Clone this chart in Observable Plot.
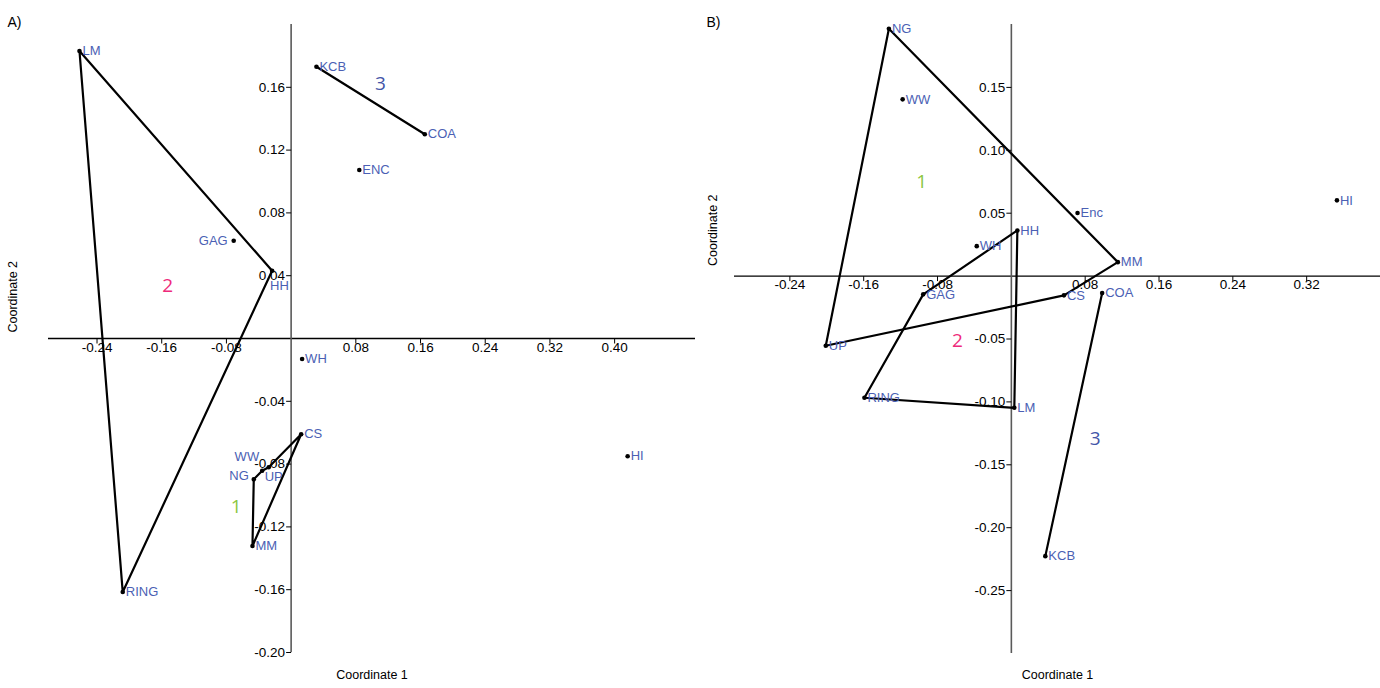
<!DOCTYPE html>
<html><head><meta charset="utf-8">
<script src="https://cdn.jsdelivr.net/npm/d3@7"></script>
<script src="https://cdn.jsdelivr.net/npm/@observablehq/plot@0.6"></script>
<style>
body{margin:0;background:#fff;}
#wrap{position:relative;width:1380px;height:688px;overflow:hidden;}
#a{position:absolute;left:0;top:0;}
#b{position:absolute;left:700px;top:0;}
</style></head><body><div id="wrap"><div id="a"></div><div id="b"></div></div>
<script>
// ---------- Panel A data ----------
const namesA = ["LM","KCB","COA","ENC","GAG","HH","WH","CS","HI","WW","UP","NG","MM","RING"];
const xA = [-0.2617, 0.0313, 0.1653, 0.0843, -0.0710, -0.0235, 0.0136, 0.0124, 0.4161, -0.0358, -0.0277, -0.0462, -0.0478, -0.2082];
const yA = [0.1831, 0.1731, 0.1301, 0.1073, 0.0623, 0.0432, -0.0131, -0.0610, -0.0750, -0.0842, -0.0820, -0.0897, -0.1322, -0.1615];
const hullsA = [["LM","HH","RING","LM"], ["CS","UP","WW","NG","MM","CS"], ["KCB","COA"]];
const groupNamesA = ["1","2","3"];
const groupXA = [-0.0679, -0.1525, 0.1105];
const groupYA = [-0.1070, 0.0338, 0.1624];
const xTicksA = [-0.24,-0.16,-0.08,0.08,0.16,0.24,0.32,0.40];
const yTicksA = [0.16,0.12,0.08,0.04,-0.04,-0.08,-0.12,-0.16,-0.20];

// ---------- Panel B data ----------
const namesB = ["NG","WW","Enc","HI","MM","HH","WH","CS","COA","GAG","UP","RING","LM","KCB"];
const xB = [-0.1327, -0.1178, 0.0717, 0.3528, 0.1154, 0.0065, -0.0375, 0.0570, 0.0984, -0.0955, -0.2011, -0.1592, 0.0032, 0.0368];
const yB = [0.1966, 0.1405, 0.0501, 0.0602, 0.0111, 0.0363, 0.0238, -0.0153, -0.0135, -0.0145, -0.0554, -0.0967, -0.1047, -0.2226];
const hullsB = [["NG","MM","CS","UP","NG"], ["HH","LM","RING","GAG","HH"], ["COA","KCB"]];
const groupNamesB = ["1","2","3"];
const groupXB = [-0.0973, -0.0584, 0.0908];
const groupYB = [0.0747, -0.0517, -0.1296];
const xTicksB = [-0.24,-0.16,-0.08,0.08,0.16,0.24,0.32];
const yTicksB = [0.15,0.10,0.05,-0.05,-0.10,-0.15,-0.20,-0.25];

// ---------- styling ----------
const labelColor = "#4b5fb4";
const groupColors = {"1": "#8cc63f", "2": "#ee2a7b", "3": "#4355a8"};
const tickDown = {draw(ctx){ ctx.moveTo(0,0); ctx.lineTo(0,5); }};
const tickLeft = {draw(ctx){ ctx.moveTo(0,0); ctx.lineTo(-5,0); }};

function panel(cfg) {
  const pts = cfg.names.map((n, i) => ({name: n, x: cfg.xs[i], y: cfg.ys[i]}));
  const byName = new Map(pts.map(p => [p.name, p]));
  const hullRows = cfg.hulls.flatMap((h, k) => h.map(n => ({...byName.get(n), hull: k})));
  const groups = cfg.groupNames.map((g, i) => ({g, x: cfg.groupX[i], y: cfg.groupY[i]}));
  const special = cfg.special || {};
  const normal = pts.filter(p => !(p.name in special));
  const labelMarks = [
    Plot.text(normal, {x: "x", y: "y", text: "name", textAnchor: "start", dx: 3, fill: labelColor, fontSize: 13})
  ];
  for (const [n, [dx, dy, anchor]] of Object.entries(special)) {
    labelMarks.push(Plot.text(pts.filter(p => p.name === n), {x: "x", y: "y", text: "name", textAnchor: anchor, dx, dy, fill: labelColor, fontSize: 13}));
  }
  return Plot.plot({
    width: cfg.width, height: 688,
    marginLeft: cfg.ml, marginRight: cfg.mr, marginTop: 24, marginBottom: cfg.mb,
    x: {domain: cfg.xDomain, axis: null},
    y: {domain: cfg.yDomain, axis: null},
    style: {fontFamily: "'Liberation Sans', Arial, sans-serif", background: "white", overflow: "visible"},
    marks: [
      Plot.ruleY([0], {stroke: "black", strokeWidth: 1.3}),
      Plot.ruleX([0], {stroke: "#5a5a5a", strokeWidth: 1.6}),
      Plot.dot(cfg.xTicks, {x: d => d, y: () => 0, symbol: tickDown, stroke: "black", fill: "none", strokeWidth: 1}),
      Plot.dot(cfg.yTicks, {x: () => 0, y: d => d, symbol: tickLeft, stroke: "black", fill: "none", strokeWidth: 1}),
      Plot.text(cfg.xTicks, {x: d => d, y: () => 0, text: d => d.toFixed(2), dy: 9, fill: "black", fontSize: 13.5}),
      Plot.text(cfg.yTicks, {x: () => 0, y: d => d, text: d => d.toFixed(2), dx: -6, textAnchor: "end", fill: "black", fontSize: 13.5}),
      Plot.line(hullRows, {x: "x", y: "y", z: "hull", stroke: "black", strokeWidth: 2.2, strokeLinejoin: "round"}),
      Plot.dot(pts, {x: "x", y: "y", r: 2.3, fill: "black"}),
      ...labelMarks,
      Plot.text(groups, {x: "x", y: "y", text: "g", fill: d => groupColors[d.g], fontSize: 19, fontFamily: "'Open Sans', sans-serif"}),
      Plot.text([cfg.tag], {frameAnchor: "top-left", dx: cfg.tagDx, dy: -7, textAnchor: "start", fontSize: 14, fill: "black"}),
      Plot.text(["Coordinate 1"], {frameAnchor: "bottom", dy: cfg.c1dy, fontSize: 12.5, fill: "black"}),
      Plot.text(["Coordinate 2"], {frameAnchor: "left", rotate: -90, dx: cfg.c2dx, dy: cfg.c2dy, fontSize: 12.5, fill: "black"})
    ]
  });
}

document.getElementById("a").appendChild(panel({
  names: namesA, xs: xA, ys: yA, hulls: hullsA,
  groupNames: groupNamesA, groupX: groupXA, groupY: groupYA,
  xTicks: xTicksA, yTicks: yTicksA,
  width: 700, ml: 48, mr: 5, mb: 36,
  xDomain: [-0.3, 0.5], yDomain: [-0.2, 0.2],
  special: {GAG: [-6, 0, "end"], HH: [-2, 15, "start"], WW: [-3, -14, "end"], NG: [-5, -4, "end"], UP: [-4, 10, "start"]},
  tag: "A)", tagDx: -41, c1dy: 26, c2dx: -36, c2dy: -6
}));
document.getElementById("b").appendChild(panel({
  names: namesB, xs: xB, ys: yB, hulls: hullsB,
  groupNames: groupNamesB, groupX: groupXB, groupY: groupYB,
  xTicks: xTicksB, yTicks: yTicksB,
  width: 680, ml: 34, mr: 0, mb: 35,
  xDomain: [-0.3, 0.4], yDomain: [-0.3, 0.2],
  special: {},
  tag: "B)", tagDx: -28, c1dy: 25, c2dx: -22, c2dy: -73
}));
</script></body></html>
